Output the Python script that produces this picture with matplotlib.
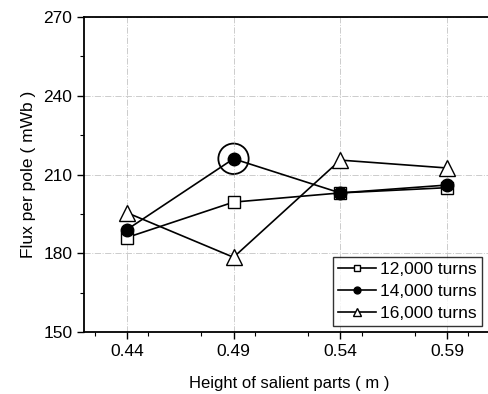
import matplotlib.pyplot as plt
from matplotlib.patches import Ellipse
from matplotlib.ticker import MultipleLocator

plt.rcParams['font.family'] = ['Liberation Sans', 'DejaVu Sans']

height = [0.44, 0.49, 0.54, 0.59]
flux_12k = [186.0, 199.5, 203.0, 205.0]
flux_14k = [189.0, 216.0, 203.0, 206.0]
flux_16k = [195.5, 178.5, 215.5, 212.5]

fig = plt.figure(figsize=(4.89, 3.94), dpi=100)
ax = fig.add_axes([0.172, 0.157, 0.838, 0.800])

ax.plot(height, flux_12k, color='black', lw=1.2, marker='s', ms=8,
        mfc='white', mec='black', mew=1.0, label='12,000 turns')
ax.plot(height, flux_14k, color='black', lw=1.2, marker='o', ms=9,
        mfc='black', mec='black', label='14,000 turns')
ax.plot(height, flux_16k, color='black', lw=1.2, marker='^', ms=11,
        mfc='white', mec='black', mew=1.0, label='16,000 turns')

# circle marking the peak
ax.add_patch(Ellipse((0.49, 216.0), 0.0142, 11.6, fill=False,
                     ec='black', lw=1.3))

ax.set_xlim(0.42, 0.612)
ax.set_ylim(150, 270)
ax.set_xticks(height)
ax.set_yticks([150, 180, 210, 240, 270])
ax.xaxis.set_minor_locator(MultipleLocator(0.025))
ax.yaxis.set_minor_locator(MultipleLocator(15))
ax.grid(True, which='major', color='#999999', lw=0.7, linestyle='-.', alpha=0.5)

ax.spines['right'].set_visible(False)
for s in ['left', 'bottom', 'top']:
    ax.spines[s].set_linewidth(1.3)
ax.tick_params(axis='both', which='major', direction='out', length=5,
               width=1, labelsize=12.5, colors='black')
ax.tick_params(axis='both', which='minor', direction='out', length=3, width=0.8)

ax.set_xlabel('Height of salient parts ( m )', fontsize=12, labelpad=12)
ax.set_ylabel('Flux per pole ( mWb )', fontsize=12.5, labelpad=5)

leg = ax.legend(loc='lower right', bbox_to_anchor=(0.985, 0.0), fontsize=12.5,
                frameon=True, fancybox=False, edgecolor='black',
                handlelength=2.2, borderpad=0.3, labelspacing=0.38,
                handletextpad=0.2, borderaxespad=0.35, markerscale=0.55)
leg.get_frame().set_linewidth(1.0)

plt.savefig('out.png', dpi=100)
